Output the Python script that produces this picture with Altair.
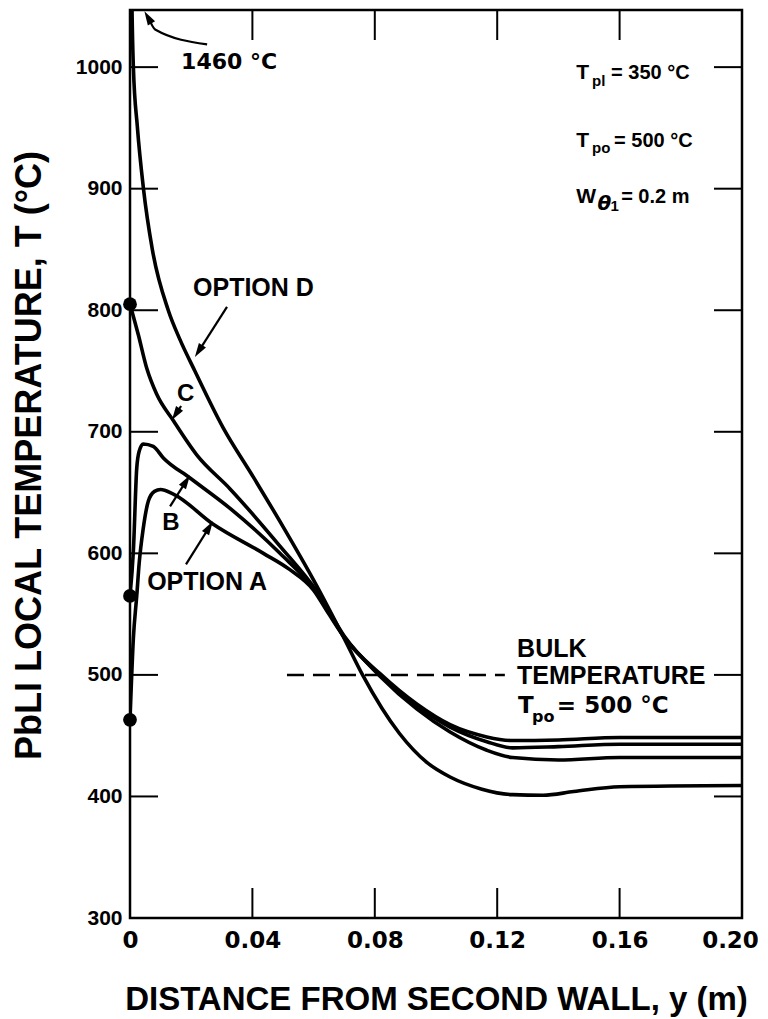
import math
import altair as alt
import pandas as pd

# ---------------- data ----------------
# distance from second wall y (m) and PbLi temperature T (deg C)
A_x = [0.0, 0.0011, 0.0022, 0.0030, 0.0043, 0.0060, 0.0080, 0.0100, 0.0140, 0.0272, 0.0436,
       0.0520, 0.0599, 0.0650, 0.0700, 0.0817, 0.0937, 0.1046, 0.1166, 0.1250, 0.1400, 0.1600, 0.2000]
A_T = [463, 530, 565, 592, 620, 643, 651, 652.5, 649, 624, 600,
       587, 570, 550, 531, 501, 476, 459, 449, 446, 446.5, 448.5, 448.5]

B_x = [0.0, 0.0011, 0.0022, 0.0030, 0.0043, 0.0076, 0.0109, 0.0196, 0.0327, 0.0490, 0.0610,
       0.0700, 0.0817, 0.0937, 0.1046, 0.1166, 0.1250, 0.1400, 0.1600, 0.2000]
B_T = [565, 602, 670, 684, 690, 688, 678.5, 662, 637, 600, 568,
       531, 500, 474.5, 457, 445, 440, 441, 443, 443]

C_x = [0.0, 0.0027, 0.0055, 0.0087, 0.0142, 0.0218, 0.0327, 0.0490, 0.0610, 0.0700, 0.0817,
       0.0937, 0.1046, 0.1166, 0.1250, 0.1400, 0.1600, 0.2000]
C_T = [805, 780, 752, 731, 709, 681, 653, 606, 569, 532, 499,
       472, 453, 438, 432, 430, 432, 432]

D_x = [0.0, 0.0004, 0.0011, 0.0024, 0.0044, 0.0073, 0.0125, 0.0163, 0.0212, 0.0305, 0.0400,
       0.0500, 0.0600, 0.0700, 0.0760, 0.0880, 0.0970, 0.1046, 0.1150, 0.1250, 0.1350, 0.1450,
       0.1600, 0.2000]
D_T = [1460, 1100, 1000, 951, 900, 850, 800, 776, 750, 703, 664,
       622, 578, 530, 500, 452, 428, 416, 406, 401.5, 401, 404,
       408, 409]

wall_T = [805, 565, 463]            # wall temperatures (filled dots at y = 0)

x_ticks = [0.0, 0.04, 0.08, 0.12, 0.16, 0.20]
y_ticks = [300, 400, 500, 600, 700, 800, 900, 1000]
inner_x_ticks = [0.04, 0.08, 0.12, 0.16]
inner_y_ticks = [400, 500, 600, 700, 800, 900, 1000]

bulk_T = 500
bulk_x = [0.0513, 0.1225]

# curve labels
lab_text = ["OPTION D", "C", "B", "OPTION A", "BULK", "TEMPERATURE"]
lab_x = [0.0206, 0.0154, 0.0105, 0.0056, 0.1265, 0.1265]
lab_T = [818.4, 731.0, 624.7, 576.1, 521.7, 499.4]

# arrows (start -> tip)
arr_x0 = [0.0317, 0.0167, 0.0131, 0.0183]
arr_T0 = [802.7, 721.2, 638.7, 590.9]
arr_x1 = [0.0212, 0.0137, 0.0196, 0.0271]
arr_T1 = [761.5, 709.6, 664.3, 626.4]

# hooked arrow to the off-scale 1460 C wall value
hook_x = [0.0252, 0.0082, 0.0047]
hook_T = [1018.7, 1031.0, 1046.0]
hook_text = "1460 °C"
hook_tx, hook_tT = 0.0167, 1004.0

# parameter block (text, x, T, font, size, italic)
par = [
    ("T", 0.1458, 995.2, "Liberation Sans", 21, False),
    ("pl", 0.1510, 989.0, "Liberation Sans", 15, False),
    ("= 350 °C", 0.1572, 995.2, "Liberation Sans", 20, False),
    ("T", 0.1458, 939.6, "Liberation Sans", 21, False),
    ("po", 0.1510, 933.4, "Liberation Sans", 15, False),
    ("= 500 °C", 0.1582, 939.6, "Liberation Sans", 20, False),
    ("W", 0.1458, 893.4, "Liberation Sans", 21, False),
    ("θ", 0.1528, 887.5, "DejaVu Sans", 20, True),
    ("1", 0.1570, 885.5, "Liberation Sans", 15, False),
    ("= 0.2 m", 0.1605, 893.4, "Liberation Sans", 20, False),
    ("T", 0.1268, 474.7, "DejaVu Sans", 23, False),
    ("po", 0.1314, 465.6, "DejaVu Sans", 16, False),
    ("= 500 °C", 0.1395, 474.7, "DejaVu Sans", 23, False),
]

# ---------------- layout ----------------
PLOT_W, PLOT_H = 612, 908
X_DOM = [0.0, 0.2]
Y_DOM = [300, 1047]
FONT = "Liberation Sans"
NUMFONT = "DejaVu Sans"

xs = alt.Scale(domain=X_DOM, nice=False, zero=False)
ys = alt.Scale(domain=Y_DOM, nice=False, zero=False)

x_axis = alt.Axis(
    values=x_ticks, labelExpr="datum.value == 0 ? '0' : format(datum.value, '.2f')",
    title="DISTANCE FROM SECOND WALL, y (m)", ticks=False, domain=False, grid=False,
    labelFont=NUMFONT, labelFontSize=23, labelFontWeight="bold", labelColor="black",
    labelPadding=11, labelFlush=False, labelOverlap=False, labelBound=False,
    labelOffset={"condition": {"test": "datum.value >= 0.19", "value": -12}, "value": 0},
    titleFont=FONT, titleFontSize=33, titleFontWeight="bold", titleColor="black",
    titleY=91, titleBaseline="alphabetic")
y_axis = alt.Axis(
    values=y_ticks, format="d",
    title="PbLI LOCAL TEMPERATURE, T (°C)", ticks=False, domain=False, grid=False,
    labelFont=FONT, labelFontSize=21, labelFontWeight="bold", labelColor="black",
    labelPadding=8, labelFlush=False, labelOverlap=False,
    titleFont=FONT, titleFontSize=36, titleFontWeight="bold", titleColor="black",
    titleAngle=270, titleX=-90, titleY=445, titleBaseline="alphabetic", titleAlign="center")


def X(f="x"):
    return alt.X(f + ":Q", scale=xs, axis=x_axis)


def Y(f="T"):
    return alt.Y(f + ":Q", scale=ys, axis=y_axis)


def to_px(x, t):
    return ((x - X_DOM[0]) / (X_DOM[1] - X_DOM[0]) * PLOT_W,
            (Y_DOM[1] - t) / (Y_DOM[1] - Y_DOM[0]) * PLOT_H)


def to_data(px, py):
    return (X_DOM[0] + px / PLOT_W * (X_DOM[1] - X_DOM[0]),
            Y_DOM[1] - py / PLOT_H * (Y_DOM[1] - Y_DOM[0]))


# curves
rows = []
for name, xv, tv in [("A", A_x, A_T), ("B", B_x, B_T), ("C", C_x, C_T), ("D", D_x, D_T)]:
    for i, (a, b) in enumerate(zip(xv, tv)):
        rows.append({"series": name, "x": a, "T": b, "i": i})
curves = pd.DataFrame(rows)

lines = alt.Chart(curves).mark_line(
    color="black", strokeWidth=3.6, clip=True, interpolate="monotone", strokeJoin="round"
).encode(x=X(), y=Y(), detail="series:N", order="i:Q")

dots = alt.Chart(pd.DataFrame({"x": [0.0] * len(wall_T), "T": wall_T})).mark_circle(
    color="black", size=190, opacity=1).encode(x=X(), y=Y())

# inward ticks
yt = pd.DataFrame({"T": inner_y_ticks})
xt = pd.DataFrame({"x": inner_x_ticks})
tick_style = dict(color="black", strokeWidth=2)
left_ticks = alt.Chart(yt).mark_rule(**tick_style).encode(y=Y(), x=alt.value(0), x2=alt.value(28))
right_ticks = alt.Chart(yt).mark_rule(**tick_style).encode(
    y=Y(), x=alt.value(PLOT_W - 28), x2=alt.value(PLOT_W))
top_ticks = alt.Chart(xt).mark_rule(**tick_style).encode(x=X(), y=alt.value(0), y2=alt.value(30))
bot_ticks = alt.Chart(xt).mark_rule(**tick_style).encode(
    x=X(), y=alt.value(PLOT_H - 30), y2=alt.value(PLOT_H))

# bulk temperature dashed line
bulk = alt.Chart(pd.DataFrame({"x": [bulk_x[0]], "x2": [bulk_x[1]], "T": [bulk_T]})).mark_rule(
    color="black", strokeWidth=2.5, strokeDash=[17, 9]).encode(x=X(), x2="x2:Q", y=Y())

# arrows
HEAD = 14.0
SHAPE = "M0,-1L0.6,1L-0.6,1Z"


def head_for(xa, ta, xb, tb):
    pa, pb = to_px(xa, ta), to_px(xb, tb)
    dx, dy = pb[0] - pa[0], pb[1] - pa[1]
    L = math.hypot(dx, dy)
    ux, uy = dx / L, dy / L
    cx, cy = pb[0] - ux * HEAD / 2, pb[1] - uy * HEAD / 2
    ex, ey = pb[0] - ux * HEAD * 0.7, pb[1] - uy * HEAD * 0.7
    ang = math.degrees(math.atan2(ux, -uy)) % 360
    return to_data(cx, cy), to_data(ex, ey), ang


seg_rows, head_rows = [], []
for xa, ta, xb, tb in zip(arr_x0, arr_T0, arr_x1, arr_T1):
    (hx, hT), (ex, eT), ang = head_for(xa, ta, xb, tb)
    seg_rows.append({"x": xa, "T": ta, "x2": ex, "T2": eT})
    head_rows.append({"x": hx, "T": hT, "ang": ang})

(hx, hT), (ex, eT), ang = head_for(hook_x[-2], hook_T[-2], hook_x[-1], hook_T[-1])
head_rows.append({"x": hx, "T": hT, "ang": ang})
hook_pts = pd.DataFrame({"x": hook_x[:-1] + [ex], "T": hook_T[:-1] + [eT], "i": list(range(len(hook_x)))})

arrow_lines = alt.Chart(pd.DataFrame(seg_rows)).mark_rule(color="black", strokeWidth=2.2).encode(
    x=X(), y=Y(), x2="x2:Q", y2="T2:Q")
hook_line = alt.Chart(hook_pts).mark_line(color="black", strokeWidth=2.2, interpolate="monotone").encode(
    x=X(), y=Y(), order="i:Q")
heads = alt.Chart(pd.DataFrame(head_rows)).mark_point(
    shape=SHAPE, filled=True, color="black", size=HEAD * HEAD, opacity=1).encode(
    x=X(), y=Y(), angle=alt.Angle("ang:Q", scale=None))

# texts
texts = []
lab_df = pd.DataFrame({"x": lab_x, "T": lab_T, "text": lab_text})
big = lab_df[lab_df["text"].str.len() > 1]
small = lab_df[lab_df["text"].str.len() == 1]
texts.append(alt.Chart(big).mark_text(align="left", baseline="middle", font=FONT, fontSize=25,
                                      fontWeight="bold", color="black").encode(x=X(), y=Y(), text="text:N"))
texts.append(alt.Chart(small).mark_text(align="left", baseline="middle", font=FONT, fontSize=24,
                                        fontWeight="bold", color="black").encode(x=X(), y=Y(), text="text:N"))
texts.append(alt.Chart(pd.DataFrame({"x": [hook_tx], "T": [hook_tT], "text": [hook_text]})).mark_text(
    align="left", baseline="middle", font=NUMFONT, fontSize=22, fontWeight="bold", color="black").encode(
    x=X(), y=Y(), text="text:N"))
for (t, px_, pt, fnt, fs, it) in par:
    kw = dict(align="left", baseline="middle", font=fnt, fontSize=fs, fontWeight="bold", color="black")
    if it:
        kw["fontStyle"] = "italic"
    texts.append(alt.Chart(pd.DataFrame({"x": [px_], "T": [pt], "text": [t]})).mark_text(**kw).encode(
        x=X(), y=Y(), text="text:N"))

chart = alt.layer(
    lines, dots, left_ticks, right_ticks, top_ticks, bot_ticks, bulk,
    arrow_lines, hook_line, heads, *texts
).properties(
    width=PLOT_W, height=PLOT_H,
    autosize=alt.AutoSizeParams(type="none"),
    padding={"left": 122, "top": 2, "right": 16, "bottom": 100},
    background="white",
).configure_view(stroke="black", strokeWidth=2.5)

chart.save("out.html", embed_options={"renderer": "svg", "actions": False})
